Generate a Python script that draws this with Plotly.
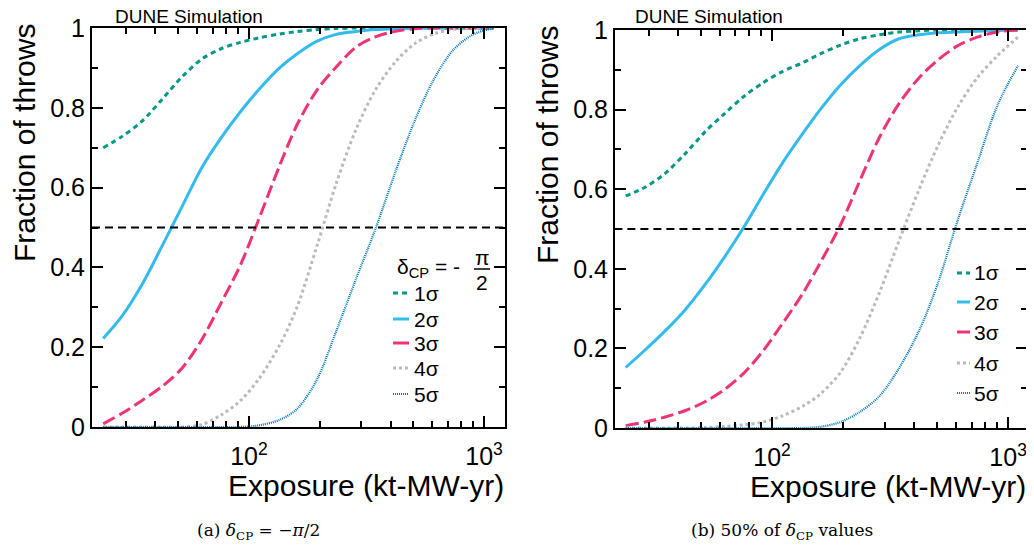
import plotly.graph_objects as go

# ---------------- data ----------------
exposure = [24, 29, 35, 43, 52, 63, 76, 92, 110, 135, 160, 195, 235, 285, 345, 420, 505, 610, 740, 900, 1100]

# panel (a): delta_CP = -pi/2
a_1sigma = [0.700, 0.729, 0.766, 0.823, 0.878, 0.922, 0.948, 0.964, 0.975, 0.985, 0.991, 0.996, 0.999, 1.0, 1.0, 1.0, 1.0, 1.0, 1.0, 1.0, 1.0]
a_2sigma = [0.222, 0.280, 0.356, 0.457, 0.553, 0.650, 0.724, 0.790, 0.845, 0.900, 0.935, 0.967, 0.984, 0.991, 0.996, 0.998, 1.0, 1.0, 1.0, 1.0, 1.0]
a_3sigma = [0.008, 0.035, 0.066, 0.103, 0.148, 0.219, 0.310, 0.406, 0.520, 0.655, 0.757, 0.845, 0.902, 0.952, 0.978, 0.992, 0.998, 1.0, 1.0, 1.0, 1.0]
a_4sigma = [0.0, 0.0, 0.0, 0.0, 0.0, 0.006, 0.030, 0.066, 0.120, 0.205, 0.300, 0.455, 0.610, 0.745, 0.845, 0.915, 0.960, 0.985, 0.997, 1.0, 1.0]
a_5sigma = [0.0, 0.0, 0.0, 0.0, 0.0, 0.0, 0.0, 0.0, 0.004, 0.018, 0.045, 0.120, 0.240, 0.370, 0.496, 0.640, 0.765, 0.870, 0.945, 0.984, 1.0]

# panel (b): 50% of delta_CP values
b_1sigma = [0.583, 0.605, 0.638, 0.690, 0.744, 0.790, 0.833, 0.868, 0.895, 0.918, 0.940, 0.962, 0.978, 0.988, 0.995, 0.998, 1.0, 1.0, 1.0, 1.0, 1.0]
b_2sigma = [0.152, 0.196, 0.242, 0.298, 0.360, 0.430, 0.505, 0.588, 0.663, 0.740, 0.800, 0.862, 0.910, 0.951, 0.978, 0.988, 0.993, 0.995, 0.997, 0.999, 1.0]
b_3sigma = [0.006, 0.015, 0.027, 0.044, 0.066, 0.097, 0.138, 0.195, 0.260, 0.338, 0.415, 0.510, 0.620, 0.730, 0.815, 0.880, 0.925, 0.960, 0.982, 0.995, 1.0]
b_4sigma = [0.0, 0.0, 0.0, 0.0, 0.001, 0.004, 0.008, 0.015, 0.030, 0.055, 0.085, 0.140, 0.225, 0.340, 0.470, 0.600, 0.710, 0.805, 0.880, 0.935, 0.982]
b_5sigma = [0.0, 0.0, 0.0, 0.0, 0.0, 0.0, 0.0, 0.0, 0.0, 0.0, 0.003, 0.015, 0.040, 0.080, 0.150, 0.245, 0.365, 0.520, 0.665, 0.810, 0.910]

series_names = ["1σ", "2σ", "3σ", "4σ", "5σ"]
threshold = 0.5

x_major = [100, 1000]
x_major_text = ["10<sup>2</sup>", "10<sup>3</sup>"]
x_minor = [30, 40, 50, 60, 70, 80, 90, 200, 300, 400, 500, 600, 700, 800, 900]
y_ticks = [0, 0.2, 0.4, 0.6, 0.8, 1.0]
y_tick_text = ["0", "0.2", "0.4", "0.6", "0.8", "1"]
y_minor = [0.1, 0.3, 0.5, 0.7, 0.9]

# ---------------- styles ----------------
colors = ["#009988", "#33BBEE", "#EE3377", "#BBBBBB", "#0077BB"]
dashes = ["5px,4px", "solid", "13px,5px", "3px,3px", "1px,1px"]
widths = [3, 3, 3, 3, 2.2]

# the page body has an 8px margin, so the figure is 8px smaller on each axis
OFF = 8
W, H = 1034 - OFF, 550 - OFF
def px(x):
    return (x - OFF) / W
def py(y):
    return 1 - (y - OFF) / H

fig = go.Figure()

panels = [
    dict(data=[a_1sigma, a_2sigma, a_3sigma, a_4sigma, a_5sigma], xa="x", ya="y"),
    dict(data=[b_1sigma, b_2sigma, b_3sigma, b_4sigma, b_5sigma], xa="x2", ya="y2"),
]
for p in panels:
    for i, ys in enumerate(p["data"]):
        fig.add_trace(go.Scatter(
            x=exposure, y=ys, mode="lines", name=series_names[i],
            line=dict(color=colors[i], width=widths[i], dash=dashes[i], shape="spline", smoothing=0.9),
            xaxis=p["xa"], yaxis=p["ya"], showlegend=False, hoverinfo="skip"))
    # 50% threshold line
    fig.add_trace(go.Scatter(
        x=[21.5, 1230], y=[threshold, threshold], mode="lines",
        line=dict(color="black", width=2, dash="8px,5px"),
        xaxis=p["xa"], yaxis=p["ya"], showlegend=False, hoverinfo="skip"))

font_main = "Liberation Sans, Arial, sans-serif"
axis_common = dict(showline=True, linecolor="black", linewidth=2, mirror="ticks",
                   ticks="inside", tickwidth=2, tickcolor="black", showgrid=False, zeroline=False,
                   automargin=False,
                   tickfont=dict(family=font_main, size=25, color="black"))

def xaxis_cfg(domain, rng, anchor):
    return dict(domain=domain, type="log", range=rng, anchor=anchor,
                tickmode="array", tickvals=x_major, ticktext=x_major_text, ticklen=11,
                ticklabelstandoff=6,
                minor=dict(tickmode="array", tickvals=x_minor, ticks="inside", ticklen=6,
                           tickwidth=2, tickcolor="black", showgrid=False),
                **axis_common)

def yaxis_cfg(domain, anchor):
    return dict(domain=domain, range=[0, 1], anchor=anchor,
                tickmode="array", tickvals=y_ticks, ticktext=y_tick_text, ticklen=11,
                ticklabelstandoff=0,
                minor=dict(tickmode="array", tickvals=y_minor, ticks="inside",
                           ticklen=6, tickwidth=2, tickcolor="black", showgrid=False),
                **axis_common)

fig.update_layout(
    width=W, height=H, margin=dict(l=0, r=0, t=0, b=0, pad=0), autosize=False,
    paper_bgcolor="white", plot_bgcolor="white", showlegend=False,
    xaxis=xaxis_cfg([px(92), px(505)], [1.3325, 3.089], "y"),
    yaxis=yaxis_cfg([py(427), py(28)], "x"),
    xaxis2=xaxis_cfg([px(615), px(1027)], [1.335, 3.08], "y2"),
    yaxis2=yaxis_cfg([py(428), py(30)], "x2"),
)

ann = []
def text(x, y, s, size, xanchor="center", yanchor="middle", angle=0, family=font_main):
    ann.append(dict(x=px(x), y=py(y), xref="paper", yref="paper", text=s, showarrow=False,
                    xanchor=xanchor, yanchor=yanchor, textangle=angle,
                    font=dict(family=family, size=size, color="black")))

# titles
for (xt_right, xt_y, yt_x, yt_top, dune_x, dune_y) in [(506, 485, 24, 22, 113, 16), (1028, 486, 547, 24, 633, 17)]:
    text(xt_right, xt_y, "Exposure (kt-MW-yr)", 30, xanchor="right")
    text(yt_x, yt_top, "Fraction of throws", 30, yanchor="top", angle=-90)
    text(dune_x, dune_y, "DUNE Simulation", 19, xanchor="left")

# captions
serif = "DejaVu Serif, Liberation Serif, serif"
text(258, 531, "(a) <i>δ</i><sub>CP</sub> = −<i>π</i>/2", 17, family=serif)
text(782, 531, "(b) 50% of <i>δ</i><sub>CP</sub> values", 17, family=serif)

# legend (a) header
text(462, 268, "δ<sub>CP</sub> = -", 21, xanchor="right")
text(482, 257, "π", 21)
text(482, 282, "2", 21)

shapes = [dict(type="line", xref="paper", yref="paper", x0=px(474), x1=px(490), y0=py(269), y1=py(269),
               line=dict(color="black", width=1.5))]

# custom legends
legend_a_rows = [293, 319, 343, 368, 394]
legend_b_rows = [273, 302, 332, 363, 393]
for rows, x0, x1, xt in [(legend_a_rows, 393, 409, 412), (legend_b_rows, 957, 970, 972)]:
    for i, yy in enumerate(rows):
        shapes.append(dict(type="line", xref="paper", yref="paper", x0=px(x0), x1=px(x1),
                           y0=py(yy), y1=py(yy),
                           line=dict(color=colors[i], width=widths[i],
                                     dash=("solid" if dashes[i] == "13px,5px" else dashes[i]))))
        text(xt, yy, series_names[i], 21, xanchor="left")

fig.update_layout(annotations=ann, shapes=shapes)
fig.write_html("out.html")
